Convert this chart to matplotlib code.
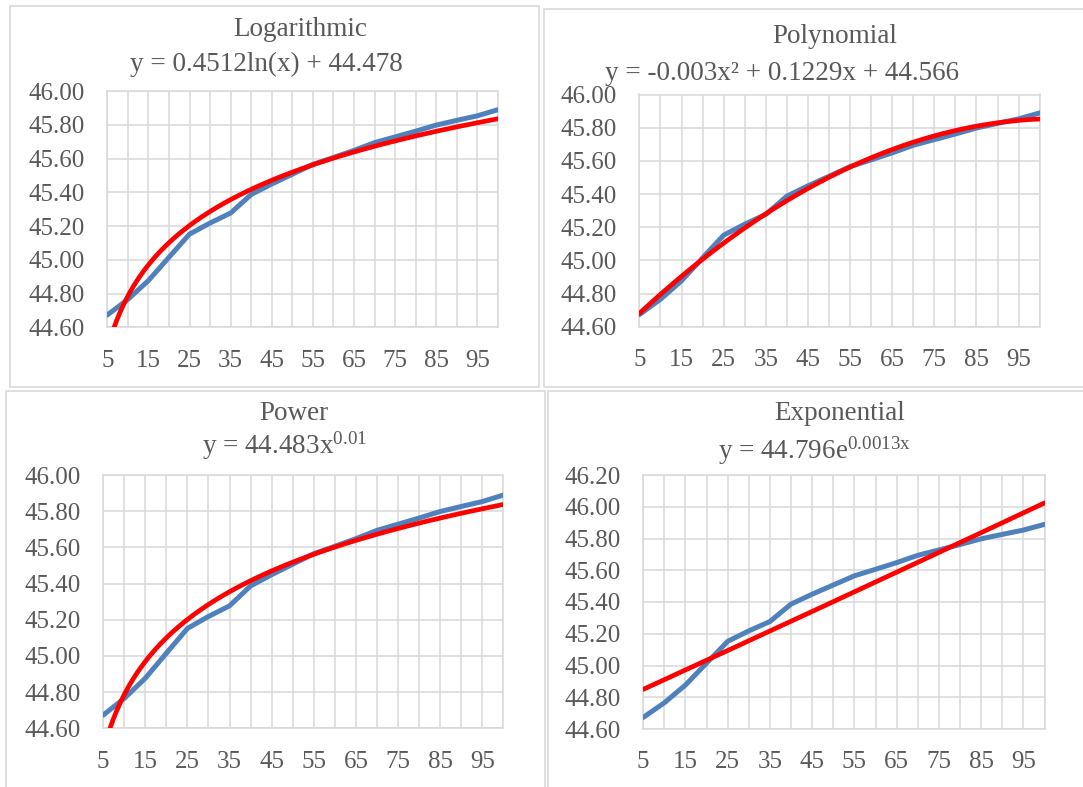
import numpy as np
import matplotlib
matplotlib.use('Agg')
import matplotlib.pyplot as plt
from matplotlib.patches import Rectangle

# data (categories 5..100)
categories = [5, 10, 15, 20, 25, 30, 35, 40, 45, 50,
              55, 60, 65, 70, 75, 80, 85, 90, 95, 100]
values = [44.673, 44.765, 44.877, 45.015, 45.152, 45.218, 45.277, 45.387, 45.449, 45.507,
          45.565, 45.606, 45.648, 45.694, 45.728, 45.762, 45.798, 45.826, 45.853, 45.889]

titles = ['Logarithmic', 'Polynomial', 'Power', 'Exponential']
equations = ['y = 0.4512ln(x) + 44.478',
             'y = -0.003x\u00b2 + 0.1229x + 44.566',
             r'y = 44.483x$^{0.01}$',
             r'y = 44.796e$^{0.0013x}$']
y_ranges = [(44.6, 46.0), (44.6, 46.0), (44.6, 46.0), (44.6, 46.2)]

W, H = 1083, 787
TEXT = '#595959'
GRID = '#d9d9d9'
BLUE = '#4f81bd'
RED = '#ff0000'

plt.rcParams['font.family'] = ['Liberation Serif', 'DejaVu Serif']
plt.rcParams['mathtext.fontset'] = 'custom'
plt.rcParams['mathtext.rm'] = 'Liberation Serif'
plt.rcParams['mathtext.it'] = 'Liberation Serif'
plt.rcParams['mathtext.default'] = 'regular'


def box(l, t, r, b):
    return [l / W, 1 - b / H, (r - l) / W, (b - t) / H]


def trend(kind, idx, y, xs):
    # same least-squares fits Excel uses for its trendlines (x = point index)
    if kind == 'Logarithmic':
        a, b = np.polyfit(np.log(idx), y, 1)
        return a * np.log(xs) + b
    if kind == 'Polynomial':
        c = np.polyfit(idx, y, 2)
        return np.polyval(c, xs)
    if kind == 'Power':
        a, b = np.polyfit(np.log(idx), np.log(y), 1)
        return np.exp(b) * xs ** a
    a, b = np.polyfit(idx, np.log(y), 1)
    return np.exp(b) * np.exp(a * xs)


# pixel layout of each panel: frame, plot area, title and equation positions
frames = [(9.6, 6, 539, 387), (543.6, 9, 1090, 387),
          (5.6, 390.7, 545, 795), (547.7, 391, 1090, 795)]
areas = [(107.3, 91, 497.9, 327.3), (639.4, 94.5, 1039.7, 326.7),
         (103.2, 475, 503.3, 728.3), (643.2, 475, 1044.5, 729)]
title_pos = [(300, 36), (835, 42.7), (294, 420), (840, 420)]
eq_pos = [(266, 70.7), (782, 80), (285, 453.3), (814, 459)]

fig = plt.figure(figsize=(W / 100, H / 100), dpi=100)

idx = np.arange(1, len(categories) + 1)
y = np.array(values)
xs = np.linspace(1, len(categories), 400)

for k in range(4):
    l, t, r, b = frames[k]
    fig.add_artist(Rectangle((l / W, 1 - b / H), (r - l) / W, (b - t) / H,
                             transform=fig.transFigure, fill=False,
                             edgecolor=GRID, linewidth=1.2))

    ax = fig.add_axes(box(*areas[k]))
    ax.plot(idx, y, color=BLUE, linewidth=3.6, solid_capstyle='round', zorder=3)
    ax.plot(xs, trend(titles[k], idx, y, xs), color=RED, linewidth=3.4,
            solid_capstyle='round', zorder=4)

    lo, hi = y_ranges[k]
    ax.set_xlim(1, len(categories))
    ax.set_ylim(lo, hi)
    ax.set_xticks(idx)
    ax.set_xticklabels([str(c) if i % 2 == 0 else '' for i, c in enumerate(categories)])
    yt = np.arange(lo, hi + 0.001, 0.2)
    ax.set_yticks(yt)
    ax.set_yticklabels(['%.2f' % v for v in yt])
    ax.grid(True, color=GRID, linewidth=1.1)
    ax.set_axisbelow(True)
    for s in ax.spines.values():
        s.set_color(GRID)
        s.set_linewidth(1.1)
    ax.tick_params(axis='both', length=0, labelsize=18, labelcolor=TEXT)
    ax.tick_params(axis='y', pad=16)
    ax.tick_params(axis='x', pad=16)

    tx, ty = title_pos[k]
    fig.text(tx / W, 1 - ty / H, titles[k], ha='center', va='baseline',
             fontsize=19.5, color=TEXT)
    ex, ey = eq_pos[k]
    fig.text(ex / W, 1 - ey / H, equations[k], ha='center', va='baseline',
             fontsize=19.5, color=TEXT)

fig.savefig('out.png', dpi=100, facecolor='white')
